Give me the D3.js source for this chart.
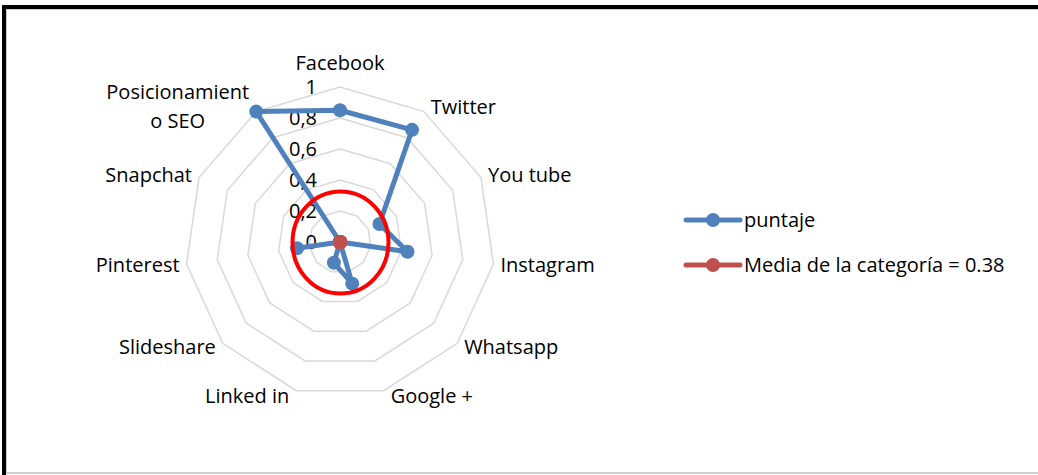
<!DOCTYPE html>
<html>
<head>
<script src="https://d3js.org/d3.v7.min.js"></script>
<style>
  body { margin: 0; background: #fff; }
  text { font-family: "Open Sans", "Liberation Sans", sans-serif; fill: #000; }
</style>
</head>
<body>
<script>
// chart data
var categories = ["Facebook", "Twitter", "You tube", "Instagram", "Whatsapp", "Google +",
                  "Linked in", "Slideshare", "Pinterest", "Snapchat", "Posicionamient|o SEO"];
var puntaje = [0.85, 0.86, 0.28, 0.44, 0, 0.28, 0.14, 0, 0.28, 0, 1];
var media = [0, 0, 0, 0, 0, 0, 0, 0, 0, 0, 0];
var ticks = [0, 0.2, 0.4, 0.6, 0.8, 1];
var tickLabels = ["0", "0,2", "0,4", "0,6", "0,8", "1"];
var seriesNames = ["puntaje", "Media de la categoría = 0.38"];

var width = 1038, height = 475;
var cx = 340, cy = 242, R = 155;

var svg = d3.select("body").append("svg")
    .attr("width", width)
    .attr("height", height);

// frame
svg.append("rect")
    .attr("x", 6).attr("y", 9)
    .attr("width", width + 20).attr("height", 473 - 9)
    .attr("fill", "#fff")
    .attr("stroke", "#bfbfbf").attr("stroke-width", 1.5);
svg.append("path")
    .attr("d", "M4," + (height + 5) + "V7H" + (width + 5))
    .attr("fill", "none").attr("stroke", "#000").attr("stroke-width", 4);

var r = d3.scaleLinear().domain([0, 1]).range([0, R]);
var angle = d3.scaleLinear().domain([0, categories.length]).range([0, 2 * Math.PI]);

function px(i, v) { return cx + r(v) * Math.sin(angle(i)); }
function py(i, v) { return cy - r(v) * Math.cos(angle(i)); }

// grid rings
var ring = d3.line().x(function(d) { return d[0]; }).y(function(d) { return d[1]; }).curve(d3.curveLinearClosed);
svg.append("g").selectAll("path")
    .data(ticks.filter(function(t) { return t > 0; }))
    .enter().append("path")
    .attr("d", function(t) { return ring(categories.map(function(c, i) { return [px(i, t), py(i, t)]; })); })
    .attr("fill", "none")
    .attr("stroke", "#d9d9d9")
    .attr("stroke-width", 1.5);

// axis tick labels
svg.append("g").selectAll("text")
    .data(ticks)
    .enter().append("text")
    .attr("x", cx - 23)
    .attr("y", function(t) { return cy - r(t) + 2; })
    .attr("text-anchor", "end")
    .attr("dominant-baseline", "middle")
    .attr("font-size", 20)
    .text(function(t, i) { return tickLabels[i]; });

// category labels
var lab = svg.append("g");
categories.forEach(function(c, i) {
  var s = Math.sin(angle(i)), co = Math.cos(angle(i));
  var vx = px(i, 1), vy = py(i, 1);
  var lines = c.split("|");
  var t = lab.append("text").attr("font-size", 20);
  if (Math.abs(s) < 0.1) {
    t.attr("x", vx).attr("y", vy - 17).attr("text-anchor", "middle").text(lines[0]);
    return;
  }
  var lx = vx + 7 * (s > 0 ? 1 : -1);
  var midY = vy - 6 * co;
  if (lines.length === 1) {
    t.attr("x", lx).attr("y", midY + 7)
      .attr("text-anchor", s > 0 ? "start" : "end")
      .text(lines[0]);
  } else {
    // multi-line label, centred inside its block
    lines.forEach(function(l) { t.append("tspan").text(l); });
    var w = d3.max(t.selectAll("tspan").nodes(), function(n) { return n.getComputedTextLength(); });
    var centre = s > 0 ? lx + w / 2 : lx - w / 2;
    var lh = 29;
    t.attr("text-anchor", "middle");
    t.selectAll("tspan")
      .attr("x", centre)
      .attr("y", function(d, k) { return midY + 7 - (lines.length - 1) * lh / 2 + k * lh; });
  }
});

// series
var colors = ["#4f81bd", "#c0504d"];
var radarLine = d3.line()
    .x(function(d, i) { return px(i, d); })
    .y(function(d, i) { return py(i, d); })
    .curve(d3.curveLinearClosed);

[puntaje, media].forEach(function(series, si) {
  var g = svg.append("g");
  g.append("path")
    .attr("d", radarLine(series))
    .attr("fill", "none")
    .attr("stroke", colors[si])
    .attr("stroke-width", 5)
    .attr("stroke-linejoin", "round");
  g.selectAll("circle")
    .data(series)
    .enter().append("circle")
    .attr("cx", function(d, i) { return px(i, d); })
    .attr("cy", function(d, i) { return py(i, d); })
    .attr("r", 7)
    .attr("fill", colors[si]);
});

// red annotation ellipse
svg.append("ellipse")
    .attr("cx", 340.5).attr("cy", 242.5)
    .attr("rx", 48).attr("ry", 51)
    .attr("fill", "none")
    .attr("stroke", "#ff0000")
    .attr("stroke-width", 4);

// legend
var legend = svg.append("g");
seriesNames.forEach(function(n, i) {
  var y = 220 + i * 45;
  legend.append("line")
    .attr("x1", 686).attr("x2", 740)
    .attr("y1", y).attr("y2", y)
    .attr("stroke", colors[i]).attr("stroke-width", 5).attr("stroke-linecap", "round");
  legend.append("circle")
    .attr("cx", 713).attr("cy", y).attr("r", 7).attr("fill", colors[i]);
  legend.append("text")
    .attr("x", 744).attr("y", y + 7)
    .attr("font-size", 20)
    .text(n);
});
</script>
</body>
</html>
